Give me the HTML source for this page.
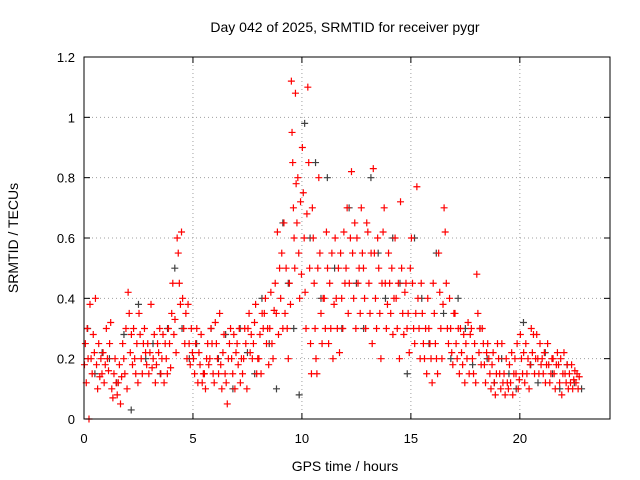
<!DOCTYPE html>
<html><head><meta charset="utf-8">
<style>
body{margin:0;background:#fff;}
svg{display:block;font-family:"Liberation Sans",sans-serif;}
</style></head>
<body>
<svg id="chart" width="640" height="480" viewBox="0 0 640 480">
<rect x="0" y="0" width="640" height="480" fill="#fff"/>
<text x="345" y="32" font-size="14" text-anchor="middle">Day 042 of 2025, SRMTID for receiver pygr</text>
<text x="345" y="471" font-size="14" text-anchor="middle">GPS time / hours</text>
<text transform="translate(18,238) rotate(-90)" font-size="14" text-anchor="middle">SRMTID / TECUs</text>
<g id="grid"></g>
<g id="ticks"></g>
<g id="grayS"></g>
<g id="redS"></g>
<rect x="84" y="57" width="526" height="362" fill="none" stroke="#000" stroke-width="1"/>
</svg>
<script>
const xTicks=[0,5,10,15,20];
const yTicks=[0,0.2,0.4,0.6,0.8,1,1.2];
const yTickLabels=["0","0.2","0.4","0.6","0.8","1","1.2"];
const binStart=0, binWidth=0.25;
const redBins=[
[0.18,0.25,0.12,0.3,0.2,0],[0.38,0.2,0.15,0.28,0.22],[0.4,0.18,0.1,0.25,0.14],[0.2,0.15,0.22,0.12,0.18],
[0.3,0.2,0.16,0.25,0.32],[0.1,0.07,0.15,0.2,0.12],[0.08,0.12,0.18,0.05,0.14],[0.25,0.2,0.15,0.3,0.1],
[0.42,0.35,0.22,0.28,0.18],[0.3,0.2,0.15,0.25,0.12],[0.35,0.28,0.2,0.15,0.25],[0.3,0.22,0.18,0.25,0.15],
[0.22,0.38,0.17,0.2,0.28],[0.12,0.18,0.25,0.22,0.3],[0.15,0.2,0.28,0.12,0.25],[0.2,0.15,0.3,0.25,0.17],
[0.35,0.45,0.28,0.33,0.22],[0.6,0.55,0.45,0.38,0.62],[0.4,0.3,0.25,0.35,0.2],[0.38,0.25,0.18,0.3,0.22],
[0.2,0.15,0.25,0.3,0.12],[0.22,0.18,0.28,0.12,0.15],[0.15,0.1,0.2,0.25,0.18],[0.2,0.3,0.25,0.15,0.12],
[0.32,0.25,0.2,0.15,0.35],[0.18,0.1,0.22,0.28,0.15],[0.12,0.05,0.2,0.25,0.3],[0.2,0.15,0.28,0.1,0.22],
[0.25,0.18,0.3,0.12,0.2],[0.15,0.2,0.3,0.25,0.1],[0.3,0.35,0.22,0.28,0.2],[0.25,0.32,0.38,0.15,0.2],
[0.2,0.28,0.15,0.35,0.3],[0.35,0.4,0.25,0.3,0.18],[0.3,0.42,0.25,0.2,0.36],[0.45,0.35,0.62,0.28,0.5],
[0.4,0.55,0.3,0.65,0.35],[0.5,0.3,0.2,0.45,0.38],[1.12,0.95,0.85,0.7,0.6,0.5,1.08,0.78],[0.65,0.8,0.55,0.4,0.72,0.48],
[0.9,0.75,0.6,0.42,0.3,0.68],[1.1,0.85,0.5,0.25,0.15,0.7],[0.6,0.45,0.3,0.2,0.15,0.5],[0.8,0.55,0.35,0.25,0.4],
[0.4,0.3,0.62,0.5,0.25],[0.45,0.3,0.55,0.2,0.38],[0.6,0.4,0.3,0.5,0.22],[0.55,0.4,0.3,0.62,0.45],
[0.5,0.7,0.35,0.45,0.6],[0.82,0.55,0.4,0.65,0.3],[0.6,0.45,0.5,0.35,0.7],[0.55,0.5,0.4,0.3,0.65],
[0.62,0.45,0.35,0.55,0.25],[0.83,0.55,0.4,0.3,0.6],[0.5,0.35,0.2,0.45,0.62],[0.7,0.45,0.3,0.38,0.55],
[0.45,0.35,0.5,0.28,0.4],[0.6,0.4,0.3,0.45,0.2],[0.72,0.5,0.35,0.28,0.42],[0.45,0.3,0.35,0.22,0.5],
[0.6,0.45,0.3,0.25,0.35],[0.77,0.4,0.3,0.2,0.45],[0.35,0.25,0.2,0.3,0.15],[0.4,0.3,0.25,0.2,0.12],
[0.45,0.35,0.25,0.2,0.15],[0.55,0.42,0.3,0.2,0.38],[0.7,0.62,0.45,0.3,0.25],[0.4,0.3,0.22,0.18,0.35],
[0.35,0.25,0.2,0.3,0.15],[0.3,0.22,0.18,0.28,0.12],[0.25,0.2,0.32,0.15,0.28],[0.3,0.2,0.15,0.25,0.12],
[0.48,0.35,0.22,0.3,0.18],[0.3,0.25,0.18,0.12,0.22],[0.25,0.2,0.15,0.1,0.18],[0.22,0.12,0.08,0.15,0.25],
[0.2,0.15,0.1,0.25,0.12],[0.15,0.08,0.2,0.12,0.1],[0.18,0.12,0.22,0.08,0.15],[0.2,0.15,0.25,0.1,0.13],
[0.28,0.2,0.15,0.22,0.12],[0.25,0.15,0.2,0.1,0.18],[0.3,0.22,0.28,0.15,0.2],[0.28,0.2,0.15,0.25,0.18],
[0.2,0.15,0.22,0.12,0.18],[0.25,0.18,0.12,0.15,0.2],[0.2,0.15,0.1,0.18,0.22],[0.18,0.12,0.2,0.08,0.15],
[0.22,0.15,0.12,0.18,0.1],[0.15,0.12,0.18,0.1,0.13],[0.16,0.12,0.15,0.1,0.14]
];
const grayBinWidth=1;
const grayBins=[
[0.3,0.15,0.22],[0.2,0.12,0.28],[0.03,0.38,0.2],[0.25,0.15,0.3],[0.5,0.3,0.2],[0.25,0.15,0.3],
[0.2,0.28,0.1],[0.3,0.22,0.15],[0.4,0.25,0.1],[0.65,0.45,0.3,0.08],[0.98,0.6,0.85,0.4],[0.8,0.5,0.3],
[0.7,0.45,0.3],[0.8,0.55,0.4],[0.6,0.45,0.15],[0.6,0.4,0.25],[0.55,0.35,0.2],[0.4,0.3,0.18],
[0.3,0.2,0.12],[0.2,0.15,0.1],[0.32,0.18,0.12],[0.22,0.15,0.1],[0.18,0.12,0.1]
];
const X0=84,X1=607,XMAX=24,Y0=419,Y1=57,YMAX=1.2;
const sx=t=>X0+(X1-X0)*t/XMAX;
const sy=v=>Y0-(Y0-Y1)*v/YMAX;
const NS="http://www.w3.org/2000/svg";
function mk(tag,attrs,parent){const e=document.createElementNS(NS,tag);for(const k in attrs)e.setAttribute(k,attrs[k]);parent.appendChild(e);return e;}
const grid=document.getElementById('grid'),ticks=document.getElementById('ticks');
yTicks.forEach((v,i)=>{
  const y=sy(v);
  if(i>0&&i<yTicks.length-1){const g=mk('line',{x1:X0,x2:610,y1:y,y2:y,stroke:'#a0a0a0','stroke-dasharray':'1,3'},grid);
  
  }
  const l=mk('text',{x:X0-9,y:y+5,'font-size':'13','text-anchor':'end'},ticks);l.textContent=yTickLabels[i];
  
  
  mk('line',{x1:X0,x2:X0+6,y1:y,y2:y,stroke:'#000'},ticks);
  mk('line',{x1:604,x2:610,y1:y,y2:y,stroke:'#000'},ticks);
});
xTicks.forEach(t=>{
  const x=sx(t);
  if(t>0){const g=mk('line',{x1:x,x2:x,y1:Y1,y2:Y0,stroke:'#a0a0a0','stroke-dasharray':'1,3'},grid);
  
  }
  const l=mk('text',{x:x,y:443,'font-size':'13','text-anchor':'middle'},ticks);l.textContent=String(t);
  
  
  mk('line',{x1:x,x2:x,y1:Y0,y2:Y0-6,stroke:'#000'},ticks);
  mk('line',{x1:x,x2:x,y1:Y1,y2:Y1+6,stroke:'#000'},ticks);
});
function plot(bins,bw,color,parent,name){
  bins.forEach((vals,i)=>{
    vals.forEach((v,j)=>{
      const t=binStart+i*bw+(j+0.5)/vals.length*bw;
      const x=sx(t),y=sy(v);
      const p=mk('path',{d:`M${x-3.5},${y}h7M${x},${y-3.5}v7`,stroke:color,'stroke-width':'1.2',fill:'none'},parent);
      
      
    });
  });
}
plot(grayBins,grayBinWidth,'#404040',document.getElementById('grayS'),'gray-point');
plot(redBins,binWidth,'#ff0000',document.getElementById('redS'),'red-point');
</script>
</body></html>
